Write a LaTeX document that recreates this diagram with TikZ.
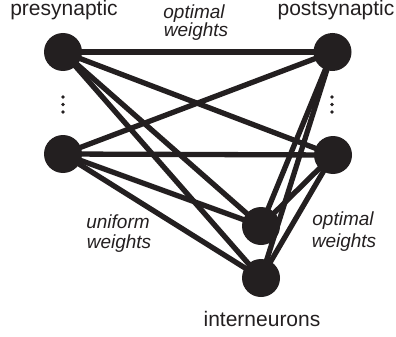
\documentclass[tikz,border=0pt]{standalone}
\usepackage{fontspec}
\setmainfont{Liberation Sans}
\definecolor{ink}{HTML}{231F20}
\begin{document}
\begin{tikzpicture}[x=1pt,y=-1pt,
  neuron/.style={circle,fill=ink,minimum size=38pt,inner sep=0pt},
  syn/.style={line width=5.3pt,draw=ink},
  lbl/.style={text=ink,font=\fontsize{21}{25}\selectfont,anchor=base,inner sep=0pt},
  wlbl/.style={text=ink,font=\fontsize{19}{22}\selectfont\itshape,anchor=base,inner sep=0pt},
  vdot/.style={circle,fill=ink,minimum size=3.6pt,inner sep=0pt}]
\useasboundingbox (0,0) rectangle (396,337);
\coordinate (p1) at (63,52);
\coordinate (p2) at (63,154);
\coordinate (q1) at (332.5,52);
\coordinate (q2) at (333,155);
\coordinate (i1) at (261,226);
\coordinate (i2) at (261,278);
\foreach \a in {p1,p2} \foreach \b in {q1,q2,i1,i2} \draw[syn] (\a) -- (\b);
\foreach \a in {q1,q2} \foreach \b in {i1,i2} \draw[syn] (\a) -- (\b);
\node[neuron] (P1) at (p1) {};
\node[neuron] (P2) at (p2) {};
\node[neuron] (Q1) at (q1) {};
\node[neuron] (Q2) at (q2) {};
\node[neuron] (I1) at (i1) {};
\node[neuron] (I2) at (i2) {};
\node[vdot] (ld1) at (63,97) {};
\node[vdot] (ld2) at (63,104.5) {};
\node[vdot] (ld3) at (63,112) {};
\node[vdot] (rd1) at (332,97) {};
\node[vdot] (rd2) at (332,104.5) {};
\node[vdot] (rd3) at (332,112) {};
\node[lbl] (pre) at (64,16) {presynaptic};
\node[lbl] (post) at (336,16) {postsynaptic};
\node[lbl] (inter) at (262,326) {interneurons};
\node[wlbl] (ow1) at (194,18.5) {optimal};
\node[wlbl] (ow2) at (196,37) {weights};
\node[wlbl] (uw1) at (118,228) {uniform};
\node[wlbl] (uw2) at (119,248) {weights};
\node[wlbl] (rw1) at (343,225) {optimal};
\node[wlbl] (rw2) at (344,247) {weights};
\end{tikzpicture}
\end{document}
